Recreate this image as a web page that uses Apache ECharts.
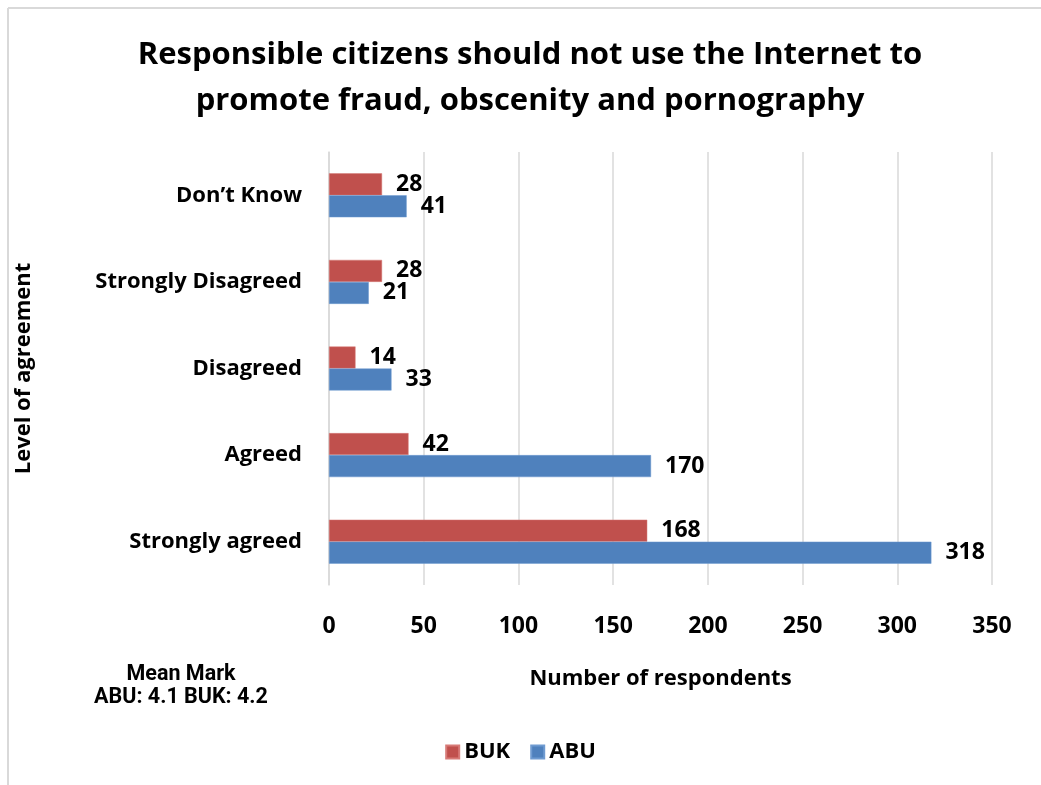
<!DOCTYPE html>
<html>
<head>
<meta charset="utf-8">
<script src="https://cdn.jsdelivr.net/npm/echarts@6/dist/echarts.min.js"></script>
<style>
html,body{margin:0;padding:0;background:#fff;}
#chart{width:1041px;height:785px;}
</style>
</head>
<body>
<div id="chart"></div>
<script>
const categories = ['Strongly agreed', 'Agreed', 'Disagreed', 'Strongly Disagreed', 'Don\u2019t Know'];
const abuValues = [318, 170, 33, 21, 41];
const bukValues = [168, 42, 14, 28, 28];
const xTicks = [0, 50, 100, 150, 200, 250, 300, 350];

const FONT = '"Open Sans", Lato, sans-serif';
const chart = echarts.init(document.getElementById('chart'));
const labelStyle = {show: true, position: 'right', distance: 14, fontFamily: FONT, fontWeight: 'bold', fontSize: 23, color: '#000'};
chart.setOption({
  animation: false,
  title: [{
    text: 'Responsible citizens should not use the Internet to\npromote fraud, obscenity and pornography',
    left: 525, top: 27, textAlign: 'center',
    textStyle: {fontFamily: FONT, fontWeight: 'bold', fontSize: 31, lineHeight: 46, color: '#000'}
  }, {
    text: 'Mean Mark\nABU: 4.1 BUK: 4.2',
    left: 176, top: 658, textAlign: 'center',
    textStyle: {fontFamily: 'Roboto, Arial, sans-serif', fontWeight: 'bold', fontSize: 21.5, lineHeight: 23, color: '#000'}
  }],
  legend: {
    data: ['BUK', 'ABU'],
    left: 'center', top: 736,
    itemWidth: 13, itemHeight: 13, itemGap: 20,
    icon: 'rect',
    textStyle: {fontFamily: FONT, fontWeight: 'bold', fontSize: 22, color: '#000'}
  },
  grid: {left: 329, right: 49, top: 152, bottom: 200},
  xAxis: {
    type: 'value', min: 0, max: 350, interval: 50,
    name: 'Number of respondents', nameLocation: 'middle', nameGap: 83,
    nameTextStyle: {fontFamily: FONT, fontWeight: 'bold', fontSize: 22, color: '#000'},
    axisLine: {show: false}, axisTick: {show: false},
    axisLabel: {margin: 30, fontFamily: FONT, fontWeight: 'bold', fontSize: 23, color: '#000',
      formatter: v => xTicks.includes(v) ? String(v) : ''},
    splitLine: {show: true, lineStyle: {color: '#d9d9d9', width: 1.5}}
  },
  yAxis: {
    type: 'category', data: categories,
    name: 'Level of agreement', nameLocation: 'middle', nameGap: 294, nameRotate: 90,
    nameTextStyle: {fontFamily: FONT, fontWeight: 'bold', fontSize: 22, color: '#000'},
    axisLine: {show: true, lineStyle: {color: '#d9d9d9', width: 1.5}},
    axisTick: {show: false},
    axisLabel: {margin: 27, fontFamily: FONT, fontWeight: 'bold', fontSize: 22, color: '#000'}
  },
  series: [
    {name: 'BUK', type: 'bar', data: bukValues, barWidth: 22, barGap: '0%',
      itemStyle: {color: '#C0504D', borderColor: '#d77a77', borderWidth: 0.5}, label: labelStyle},
    {name: 'ABU', type: 'bar', data: abuValues, barWidth: 22, barGap: '0%',
      itemStyle: {color: '#4F81BD', borderColor: '#6f9bd1', borderWidth: 0.5}, label: labelStyle}
  ],
  graphic: [
    {type: 'line', shape: {x1: 8, y1: 8, x2: 1041, y2: 8}, style: {stroke: '#d9d9d9', lineWidth: 2}},
    {type: 'line', shape: {x1: 8, y1: 8, x2: 8, y2: 785}, style: {stroke: '#d9d9d9', lineWidth: 2}}
  ]
});
</script>
</body>
</html>
